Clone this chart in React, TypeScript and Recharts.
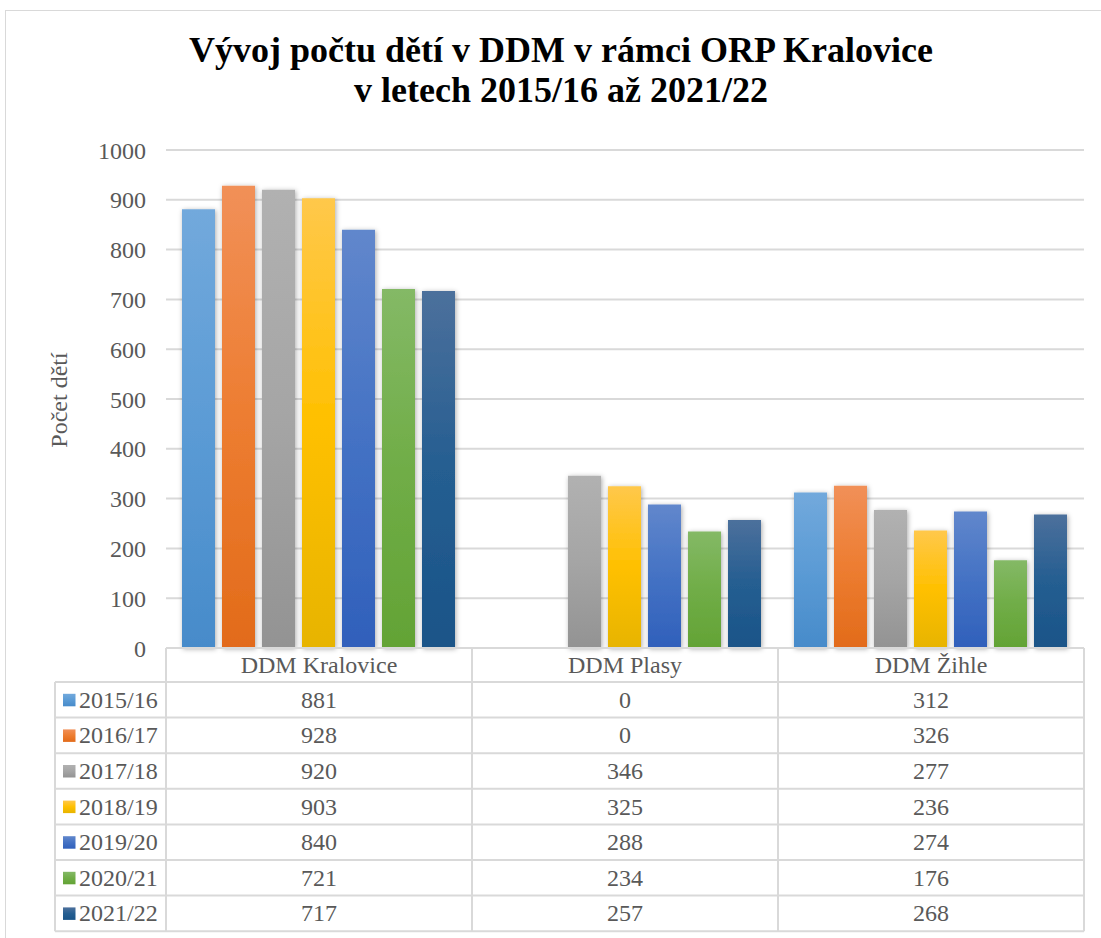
import React from 'react';
import { BarChart, Bar, XAxis, YAxis, CartesianGrid, Rectangle } from 'recharts';

const categories = ['DDM Kralovice', 'DDM Plasy', 'DDM Žihle'];
const seriesNames = ['2015/16', '2016/17', '2017/18', '2018/19', '2019/20', '2020/21', '2021/22'];
const v2015 = [881, 0, 312];
const v2016 = [928, 0, 326];
const v2017 = [920, 346, 277];
const v2018 = [903, 325, 236];
const v2019 = [840, 288, 274];
const v2020 = [721, 234, 176];
const v2021 = [717, 257, 268];
const yTicks = [0, 100, 200, 300, 400, 500, 600, 700, 800, 900, 1000];

const seriesValues = [v2015, v2016, v2017, v2018, v2019, v2020, v2021];
const gradients = [
  ['#72a9dc', '#5b9bd5', '#478bca'],
  ['#f19058', '#ed7d31', '#e26b1a'],
  ['#b1b1b1', '#a5a5a5', '#939393'],
  ['#ffc84b', '#ffc000', '#e7b400'],
  ['#6187cc', '#4472c4', '#3060bb'],
  ['#84b966', '#70ad47', '#63a335'],
  ['#4c709c', '#255e91', '#1a5488'],
];

const data = categories.map((name, ci) => {
  const row: any = { name };
  seriesValues.forEach((vals, si) => {
    row['s' + si] = vals[ci];
  });
  return row;
});

const FONT = "'Liberation Serif', 'Times New Roman', serif";
const TXT = '#595959';
const LINE = '#d9d9d9';
const HALF_BAND = 153;
const HEADER_H = 34;
const ROW_H = 35.6;
const LEGEND_LEFT = 55;

const TableTick = (props: any) => {
  const { x, y, payload, index } = props;
  const left = x - HALF_BAND;
  const right = x + HALF_BAND;
  const rowsTop = y + HEADER_H;
  const bottom = rowsTop + ROW_H * seriesNames.length;
  const els: any[] = [];
  els.push(<line key="vl" x1={left} x2={left} y1={y} y2={bottom} stroke={LINE} strokeWidth={2} />);
  els.push(<line key="vr" x1={right} x2={right} y1={y} y2={bottom} stroke={LINE} strokeWidth={2} />);
  const lx = index === 0 ? LEGEND_LEFT : left;
  for (let i = 0; i <= seriesNames.length; i++) {
    const ly = rowsTop + i * ROW_H;
    els.push(<line key={'h' + i} x1={lx} x2={right} y1={ly} y2={ly} stroke={LINE} strokeWidth={2} />);
  }
  els.push(
    <text key="hdr" x={x} y={y + 25} textAnchor="middle" fill={TXT} fontSize={24} fontFamily={FONT}>
      {payload.value}
    </text>
  );
  const ci = categories.indexOf(payload.value);
  seriesNames.forEach((s, si) => {
    const cy = rowsTop + (si + 0.5) * ROW_H;
    els.push(
      <text key={'v' + si} x={x} y={cy + 8} textAnchor="middle" fill={TXT} fontSize={24} fontFamily={FONT}>
        {seriesValues[si][ci]}
      </text>
    );
    if (index === 0) {
      els.push(
        <rect key={'lg' + si} x={63} y={cy - 6} width={12.5} height={12.5} fill={`url(#grad${si})`} />
      );
      els.push(
        <text key={'lt' + si} x={79} y={cy + 8} textAnchor="start" fill={TXT} fontSize={24} fontFamily={FONT}>
          {s}
        </text>
      );
    }
  });
  if (index === 0) {
    els.push(<line key="ll" x1={LEGEND_LEFT} x2={LEGEND_LEFT} y1={rowsTop} y2={bottom} stroke={LINE} strokeWidth={2} />);
  }
  return <g>{els}</g>;
};

const YLabel = () => (
  <text x={67} y={400} transform="rotate(-90 67 400)" textAnchor="middle" fill={TXT} fontSize={24} fontFamily={FONT}>
    Počet dětí
  </text>
);

export default function App() {
  return (
    <div style={{ position: 'absolute', left: 0, top: 0, width: 1101, height: 938, background: '#fff', overflow: 'hidden' }}>
      <svg width={0} height={0} style={{ position: 'absolute' }}>
        <defs>
          {gradients.map((g, i) => (
            <linearGradient key={i} id={`grad${i}`} x1="0" y1="0" x2="0" y2="1">
              <stop offset="0%" stopColor={g[0]} />
              <stop offset="50%" stopColor={g[1]} />
              <stop offset="100%" stopColor={g[2]} />
            </linearGradient>
          ))}
          <filter id="barShadow" x="-40%" y="-10%" width="180%" height="120%">
            <feDropShadow dx="1" dy="1" stdDeviation="2.5" floodColor="#000" floodOpacity="0.33" />
          </filter>
        </defs>
      </svg>
      <svg width={1101} height={938} style={{ position: 'absolute', left: 0, top: 0, pointerEvents: 'none' }}>
        <rect x={5.5} y={10.5} width={1200} height={1000} fill="none" stroke="#d9d9d9" strokeWidth={1} />
        <text x={561} y={62} textAnchor="middle" fill="#000" fontSize={36} fontWeight="bold" fontFamily={FONT}>
          Vývoj počtu dětí v DDM v rámci ORP Kralovice
        </text>
        <text x={561} y={102} textAnchor="middle" fill="#000" fontSize={36} fontWeight="bold" fontFamily={FONT}>
          v letech 2015/16 až 2021/22
        </text>
        <YLabel />
      </svg>
      <div style={{ position: 'absolute', left: 0, top: 0 }}>
        <BarChart
          width={1101}
          height={938}
          data={data}
          margin={{ top: 150, right: 17, bottom: 0, left: 0 }}
          barCategoryGap={16}
          barGap={7}
        >
          <CartesianGrid vertical={false} stroke={LINE} strokeWidth={2} />
          <YAxis
            width={166}
            domain={[0, 1000]}
            ticks={yTicks}
            interval={0}
            axisLine={false}
            tickLine={false}
            tickSize={0}
            tickMargin={20}
            tick={{ fill: TXT, fontSize: 24, fontFamily: FONT }}
          />
          <XAxis
            dataKey="name"
            height={290}
            interval={0}
            tickLine={false}
            tickSize={0}
            tickMargin={0}
            axisLine={{ stroke: LINE, strokeWidth: 2 }}
            tick={<TableTick />}
          />
          {seriesNames.map((s, si) => (
            <Bar
              key={s}
              dataKey={'s' + si}
              name={s}
              fill={`url(#grad${si})`}
              isAnimationActive={false}
              shape={(p: any) =>
                p.height > 0 ? (
                  <Rectangle x={p.x} y={p.y} width={p.width} height={p.height} fill={`url(#grad${si})`} filter="url(#barShadow)" />
                ) : (
                  <g />
                )
              }
            />
          ))}
        </BarChart>
      </div>
    </div>
  );
}
